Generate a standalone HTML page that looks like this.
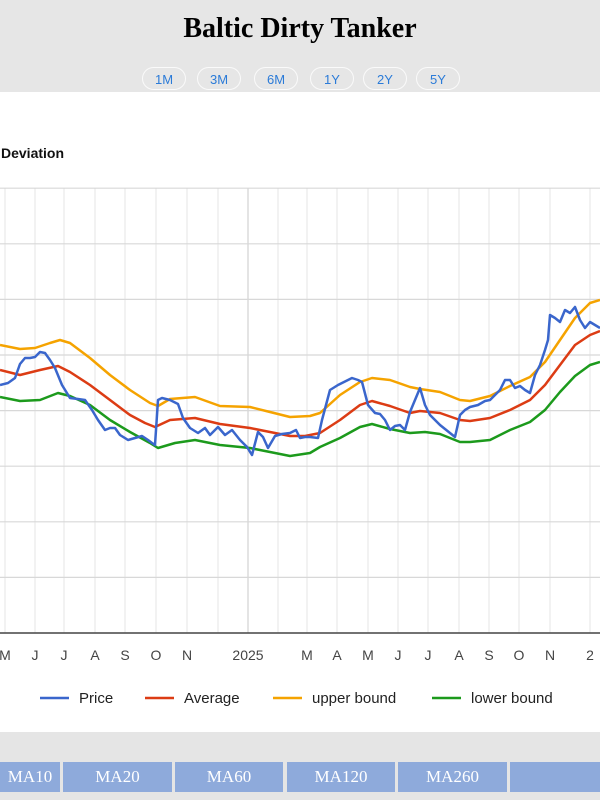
<!DOCTYPE html>
<html><head><meta charset="utf-8">
<style>
body{margin:0;width:600px;height:800px;overflow:hidden;background:#fff;font-family:"Liberation Sans",sans-serif;position:relative}
#hdr{position:absolute;left:0;top:0;width:600px;height:92px;background:#e6e6e6}
#title{position:absolute;top:13px;width:600px;text-align:center;font-family:"Liberation Serif",serif;font-weight:bold;font-size:28px;color:#000}
.rb{position:absolute;top:67px;height:23px;width:44px;border:1px solid #fafafa;border-radius:12px;color:#2b7bd8;font-size:13px;text-align:center;line-height:23px;box-sizing:border-box}
#sub{position:absolute;left:1px;top:145px;font-weight:bold;font-size:14px;color:#111;z-index:2}
#band{position:absolute;left:0;top:732px;width:600px;height:68px;background:#e5e5e5}
.ma{position:absolute;top:762px;height:30px;background:#8eaadb;color:#fff;font-family:"Liberation Serif",serif;font-size:17px;text-align:center;line-height:30px}
</style></head><body>
<div id="hdr"></div>
<div id="title">Baltic Dirty Tanker</div>
<div class="rb" style="left:142px">1M</div>
<div class="rb" style="left:197px">3M</div>
<div class="rb" style="left:254px">6M</div>
<div class="rb" style="left:310px">1Y</div>
<div class="rb" style="left:363px">2Y</div>
<div class="rb" style="left:416px">5Y</div>
<svg id="chart" width="600" height="730" style="position:absolute;left:0;top:0"></svg>
<div id="sub">Deviation</div>
<div id="band"></div>
<div class="ma" style="left:0;width:60px">MA10</div>
<div class="ma" style="left:63px;width:109px">MA20</div>
<div class="ma" style="left:175px;width:108px">MA60</div>
<div class="ma" style="left:287px;width:108px">MA120</div>
<div class="ma" style="left:398px;width:109px">MA260</div>
<div class="ma" style="left:510px;width:90px"></div>
<script>
const monthLabels=["M","J","J","A","S","O","N","","2025","","M","A","M","J","J","A","S","O","N","2"];
const monthDays=[-243,-213,-184,-153,-123,-92,-61,-30,0,30,59,89,120,150,180,211,241,271,302,342];
const yTicks=[0,55.6,111.2,166.8,222.4,278,333.6,389.2,444.8];
const priceT=[-248,-240,-233,-228,-223,-218,-213,-208,-203,-198,-193,-186,-178,-170,-163,-156,-150,-143,-138,-133,-128,-120,-113,-106,-100,-96,-93,-90,-86,-78,-70,-65,-58,-50,-43,-38,-30,-23,-16,-8,-1,4,10,15,20,27,34,42,48,52,57,62,70,74,82,90,100,104,110,114,120,127,132,137,142,147,152,157,162,167,172,177,182,192,202,207,212,217,222,230,237,242,247,252,257,262,267,272,277,282,287,292,297,300,302,307,312,317,322,327,332,337,342,347,352];
const priceV=[248,250,255,269,275,275,276,281,280,273,265,248,235,234,233,223,213,203,205,205,198,193,195,197,193,190,188,233,235,233,229,215,205,200,205,198,206,198,203,193,186,178,201,196,185,197,199,200,203,195,196,196,195,213,243,248,253,255,253,251,228,220,219,213,203,207,208,203,221,233,245,228,218,208,200,196,218,223,226,228,232,233,238,243,253,253,245,247,243,240,258,268,283,293,318,315,311,323,320,326,313,305,311,308,305];
const avgT=[-248,-228,-208,-190,-178,-158,-138,-118,-103,-93,-78,-53,-28,2,22,42,57,72,92,112,124,142,162,172,192,212,222,242,262,282,297,312,327,342,352];
const avgV=[263,258,263,267,261,248,233,218,210,206,213,215,209,205,201,197,197,200,213,228,232,227,220,222,220,213,212,215,223,233,248,268,288,298,302];
const upT=[-248,-228,-213,-198,-188,-178,-158,-138,-118,-98,-90,-78,-53,-28,2,22,42,62,72,92,112,124,142,162,172,192,212,222,242,262,282,297,312,327,342,352];
const upV=[288,284,285,290,293,290,275,258,243,230,227,234,236,227,226,221,216,217,220,238,251,255,253,246,244,241,233,232,237,247,256,271,293,315,330,333];
const loT=[-248,-228,-208,-190,-178,-158,-138,-118,-98,-90,-73,-53,-28,2,22,42,62,72,92,112,124,142,162,177,192,212,222,242,262,282,297,312,327,342,352];
const loV=[236,232,233,240,237,228,213,201,190,185,190,193,188,185,181,177,180,186,195,206,209,204,200,201,199,191,191,193,203,211,223,241,257,268,271];

const svg=document.getElementById('chart');
const NS='http://www.w3.org/2000/svg';
const X0=0,X1=600,Y0=633;
function xs(d){return 248+d;}
function ys(v){return Y0-v;}
function mk(t,a){const e=document.createElementNS(NS,t);for(const k in a)e.setAttribute(k,a[k]);svg.appendChild(e);return e;}
const bg=mk('rect',{x:0,y:92,width:600,height:640,fill:'#fff'});


monthDays.forEach((d,i)=>{
  const g=mk('line',{x1:xs(d),x2:xs(d),y1:188,y2:Y0,stroke:monthLabels[i]==="2025"?'#c8c8c8':'#e6e6e6','stroke-width':1});
  
  
  if(monthLabels[i]){
    const t=mk('text',{x:xs(d),y:660,'text-anchor':'middle','font-size':14,fill:'#444','font-family':'Liberation Sans, sans-serif'});
    t.textContent=monthLabels[i];
    
    
  }
});
yTicks.forEach((v,i)=>{
  const g=mk('line',{x1:X0,x2:X1,y1:ys(v),y2:ys(v),stroke:i===0?'#444':'#d8d8d8','stroke-width':i===0?1.5:1.2});
  
  
});
function series(T,V,col,name){
  const d=T.map((t,i)=>(i?'L':'M')+xs(t).toFixed(1)+','+ys(V[i]).toFixed(1)).join('');
  const p=mk('path',{d:d,fill:'none',stroke:col,'stroke-width':2.5,'stroke-linejoin':'round'});
  
  
}
series(loT,loV,'#1c9a1c','lower-bound-line');
series(upT,upV,'#f5a300','upper-bound-line');
series(avgT,avgV,'#dc3c14','average-line');
series(priceT,priceV,'#3a66cc','price-line');
const leg=[["Price","#3a66cc",40,79],["Average","#dc3c14",145,184],["upper bound","#f5a300",273,312],["lower bound","#1c9a1c",432,471]];
leg.forEach(l=>{
  const ln=mk('line',{x1:l[2],x2:l[2]+29,y1:698,y2:698,stroke:l[1],'stroke-width':2.5});
  
  
  const t=mk('text',{x:l[3],y:703,'font-size':15,fill:'#222','font-family':'Liberation Sans, sans-serif'});
  t.textContent=l[0];
  
  
});
</script>
</body></html>
